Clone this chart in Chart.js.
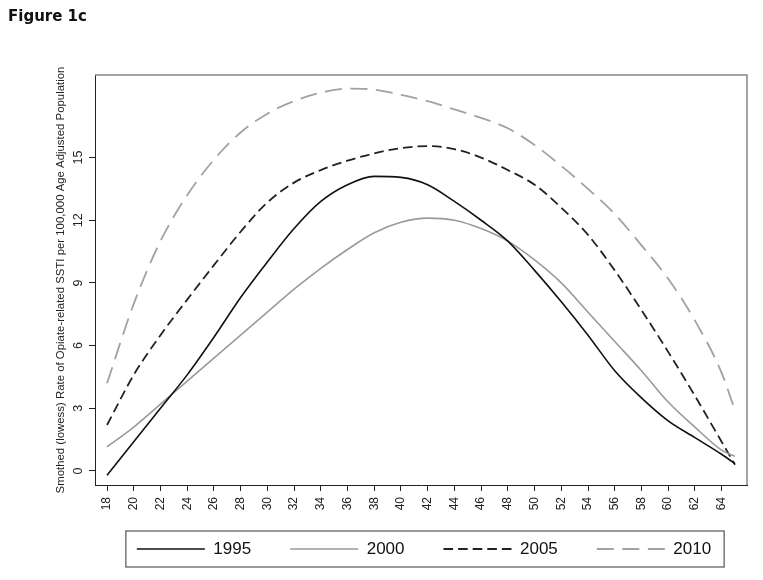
<!DOCTYPE html>
<html lang="en">
<head>
<meta charset="UTF-8">
<title>Figure 1c</title>
<style>
body {
    margin: 0;
    background: #fff;
}
.wrap {
    position: relative;
    width: 763px;
    height: 580px;
}
.fig-title {
    position: absolute;
    left: 8px;
    top: 7px;
    font: bold 15px "DejaVu Sans", sans-serif;
    color: #111;
}
</style>
</head>
<body>
<div class="wrap">
    <div class="fig-title">Figure 1c</div>
    <canvas id="chart" width="763" height="580"></canvas>
</div>
<script src="https://cdn.jsdelivr.net/npm/chart.js"></script>
<script>
// ages and smoothed rates
const ages = [18, 20, 22, 24, 26, 28, 30, 32, 34, 36, 38, 40, 42, 44, 46, 48, 50, 52, 54, 56, 58, 60, 62, 64, 65];
const rate1995 = [-0.2, 1.4, 3.0, 4.6, 6.4, 8.3, 10.0, 11.6, 12.9, 13.7, 14.1, 14.05, 13.7, 12.9, 12.0, 11.0, 9.6, 8.1, 6.5, 4.8, 3.5, 2.4, 1.6, 0.8, 0.35];
const rate2000 = [1.15, 2.1, 3.2, 4.3, 5.4, 6.5, 7.6, 8.7, 9.7, 10.6, 11.4, 11.9, 12.1, 12.0, 11.6, 11.0, 10.1, 9.0, 7.6, 6.2, 4.8, 3.3, 2.1, 1.0, 0.7];
const rate2005 = [2.2, 4.6, 6.5, 8.2, 9.85, 11.45, 12.85, 13.8, 14.4, 14.85, 15.2, 15.45, 15.55, 15.4, 15.0, 14.4, 13.7, 12.6, 11.3, 9.6, 7.7, 5.7, 3.6, 1.4, 0.3];
const rate2010 = [4.2, 8.0, 11.0, 13.2, 14.9, 16.2, 17.1, 17.7, 18.1, 18.3, 18.25, 18.0, 17.7, 17.3, 16.9, 16.4, 15.6, 14.6, 13.5, 12.3, 10.8, 9.2, 7.2, 4.7, 2.9];
const xTicks = [18, 20, 22, 24, 26, 28, 30, 32, 34, 36, 38, 40, 42, 44, 46, 48, 50, 52, 54, 56, 58, 60, 62, 64];
const yTicks = [0, 3, 6, 9, 12, 15];
const yTitle = 'Smothed (lowess) Rate of Opiate-related SSTI per 100,000 Age Adjusted Population';

const pts = vals => ages.map((a, i) => ({ x: a, y: vals[i] }));

Chart.defaults.font.family = '"Liberation Sans", Arial, sans-serif';
Chart.defaults.color = '#222';

// top/right frame of the plot and the box round the legend
const frame = {
    id: 'frame',
    afterLayout(chart) {
        const lg = chart.legend, ca = chart.chartArea;
        const pad = lg.options.labels.padding;
        const fs = lg.options.labels.font.size;
        // centre the legend row under the plot, not the canvas
        lg.left = ca.left - 110;
        lg.right = chart.width + 100;
        lg.top = ca.bottom + 64 - fs / 2 - pad;
    },
    afterDraw(chart) {
        const ctx = chart.ctx, ca = chart.chartArea, lg = chart.legend;
        ctx.save();
        ctx.strokeStyle = '#888';
        ctx.lineWidth = 1.5;
        ctx.beginPath();
        ctx.moveTo(ca.left, ca.top);
        ctx.lineTo(ca.right, ca.top);
        ctx.lineTo(ca.right, ca.bottom);
        ctx.stroke();

        const pad = lg.options.labels.padding;
        const start = (lg.left + pad + lg.right - lg.lineWidths[0]) / 2;
        const end = start + lg.lineWidths[0] - pad;
        const cy = ca.bottom + 64;
        ctx.strokeStyle = '#555';
        ctx.lineWidth = 1.2;
        ctx.strokeRect(start - 11, cy - 18, end - start + 24, 36);
        ctx.restore();
    }
};

const ctx = document.getElementById('chart').getContext('2d');
const chart = new Chart(ctx, {
    type: 'line',
    data: {
        datasets: [
            { label: '1995', data: pts(rate1995), borderColor: '#111', borderWidth: 1.6 },
            { label: '2000', data: pts(rate2000), borderColor: '#9a9a9a', borderWidth: 1.6 },
            { label: '2005', data: pts(rate2005), borderColor: '#222', borderWidth: 1.8, borderDash: [9.6, 5] },
            { label: '2010', data: pts(rate2010), borderColor: '#a2a2a2', borderWidth: 1.8, borderDash: [17, 8.5] }
        ]
    },
    options: {
        responsive: false,
        animation: false,
        layout: { padding: { left: 0, top: 75, right: 16, bottom: 0 } },
        elements: {
            point: { radius: 0 },
            line: { cubicInterpolationMode: 'monotone', fill: false }
        },
        scales: {
            x: {
                type: 'linear',
                min: 17.1,
                max: 65.9,
                afterBuildTicks: s => { s.ticks = xTicks.map(v => ({ value: v })); },
                afterFit: s => { s.height = Math.max(20, 95 - (s.chart.legend ? s.chart.legend.height : 0)); },
                grid: { drawOnChartArea: false, tickLength: 6, color: '#222' },
                border: { color: '#222', width: 1 },
                ticks: { minRotation: 90, maxRotation: 90, padding: 6, font: { size: 12 } }
            },
            y: {
                min: -0.67,
                max: 18.95,
                afterBuildTicks: s => { s.ticks = yTicks.map(v => ({ value: v })); },
                afterFit: s => { s.width = 95; },
                grid: { drawOnChartArea: false, tickLength: 6, color: '#222' },
                border: { color: '#222', width: 1 },
                ticks: { minRotation: 90, maxRotation: 90, crossAlign: 'center', padding: 4, font: { size: 12.5 } },
                title: {
                    display: true,
                    text: yTitle,
                    font: { size: 11.4 },
                    padding: { top: 54.2, bottom: 0 }
                }
            }
        },
        plugins: {
            legend: {
                position: 'bottom',
                labels: {
                    usePointStyle: true,
                    pointStyle: 'line',
                    pointStyleWidth: 68,
                    padding: 39,
                    color: '#111',
                    font: { size: 17 },
                    // legend samples take the dataset line style (dash, width)
                    generateLabels: chart => {
                        const items = Chart.defaults.plugins.legend.labels.generateLabels(chart);
                        items.forEach((it, i) => {
                            const ds = chart.data.datasets[i];
                            it.lineDash = ds.borderDash || [];
                            it.lineWidth = ds.borderWidth;
                            it.strokeStyle = ds.borderColor;
                        });
                        return items;
                    }
                }
            },
            tooltip: { enabled: false }
        }
    },
    plugins: [frame]
});
</script>
</body>
</html>
